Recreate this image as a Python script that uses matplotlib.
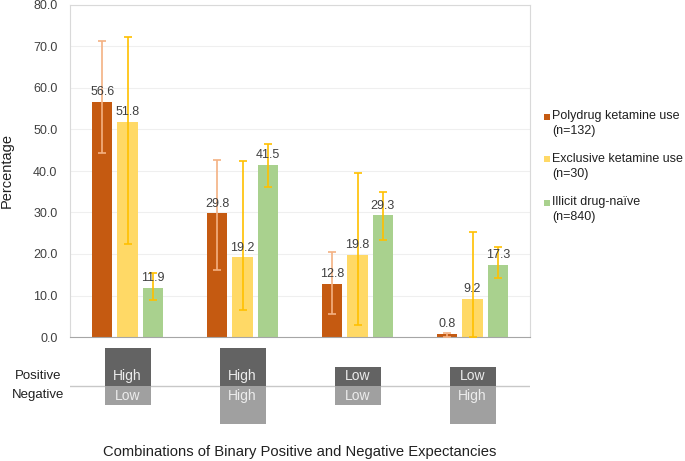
import matplotlib.pyplot as plt
import matplotlib.patches as patches
import numpy as np

plt.rcParams['font.family'] = ['Liberation Sans', 'DejaVu Sans']

# data
groups = ['HH-L', 'H-H', 'L-L', 'L-H']
positive = ['High', 'High', 'Low', 'Low']
negative = ['Low', 'High', 'Low', 'High']

series = ['Polydrug ketamine use\n(n=132)',
          'Exclusive ketamine use\n(n=30)',
          'Illicit drug-naïve\n(n=840)']
poly = [56.6, 29.8, 12.8, 0.8]
poly_lo = [44.3, 16.1, 5.5, 0.0]
poly_hi = [71.4, 42.6, 20.6, 0.9]
excl = [51.8, 19.2, 19.8, 9.2]
excl_lo = [22.4, 6.4, 2.9, 0.0]
excl_hi = [72.4, 42.5, 39.6, 25.3]
naive = [11.9, 41.5, 29.3, 17.3]
naive_lo = [8.8, 36.1, 23.3, 14.1]
naive_hi = [15.4, 46.6, 34.9, 21.7]

bar_colors = ['#C55A11', '#FFD966', '#A9D18E']
err_colors = ['#F4B183', '#FFC000', '#FFC000']

W, H = 685, 461
fig = plt.figure(figsize=(W / 100, H / 100), dpi=100)
ax = fig.add_axes([70 / W, (H - 337) / H, 460 / W, 332 / H])

x = np.arange(len(groups))
width = 0.175
offs = [-0.22, 0.0, 0.22]
vals = [poly, excl, naive]
los = [poly_lo, excl_lo, naive_lo]
his = [poly_hi, excl_hi, naive_hi]

for i in range(3):
    v = np.array(vals[i])
    yerr = [v - np.array(los[i]), np.array(his[i]) - v]
    ax.bar(x + offs[i], v, width, color=bar_colors[i], zorder=2)
    ax.errorbar(x + offs[i], v, yerr=yerr, fmt='none', ecolor=err_colors[i],
                elinewidth=1.2, capsize=3, capthick=1.2, zorder=3)
    for xi, vi in zip(x + offs[i], v):
        ax.text(xi, vi + 0.9, f'{vi:.1f}', ha='center', va='bottom',
                fontsize=9, color='#404040', zorder=4)

ax.set_xlim(-0.5, 3.5)
ax.set_ylim(0, 80)
ax.set_yticks(np.arange(0, 81, 10))
ax.set_yticklabels([f'{t:.1f}' for t in np.arange(0, 81, 10)], fontsize=9, color='#404040')
ax.set_xticks([])
ax.tick_params(axis='y', length=0, pad=9)
ax.yaxis.grid(True, color='#efefef', linewidth=0.8, zorder=0)
ax.set_axisbelow(True)
for s in ['left', 'top', 'right']:
    ax.spines[s].set_color('#d9d9d9')
ax.spines['bottom'].set_color('#a6a6a6')
ax.set_ylabel('Percentage', fontsize=10.5, labelpad=14, color='#202020')

# legend, drawn by hand in figure pixels
for i, lab in enumerate(series):
    yc = 116 + 43 * i
    fig.patches.append(patches.Rectangle((544 / W, 1 - (yc + 3.5) / H), 6 / W, 6 / H,
                                         transform=fig.transFigure,
                                         facecolor=bar_colors[i], edgecolor='none'))
    for j, line in enumerate(lab.split('\n')):
        fig.text(552 / W, 1 - (yc + 15 * j) / H, line, ha='left', va='center',
                 fontsize=9, color='#202020')

# expectancy panel: y data in pixel rows
ax2 = fig.add_axes([70 / W, (H - 430) / H, 460 / W, 90 / H])
ax2.set_xlim(-0.5, 3.5)
ax2.set_ylim(430, 340)
ax2.axis('off')
ax2.plot([-0.5, 3.5], [386, 386], color='#c8c8c8', linewidth=1, zorder=1)
bw = 0.4
for xi, p, n in zip(x, positive, negative):
    ptop = 348 if p == 'High' else 367
    ax2.add_patch(patches.Rectangle((xi - bw / 2, ptop), bw, 386 - ptop,
                                    facecolor='#636363', edgecolor='none', zorder=2))
    nbot = 424 if n == 'High' else 405
    ax2.add_patch(patches.Rectangle((xi - bw / 2, 386), bw, nbot - 386,
                                    facecolor='#a0a0a0', edgecolor='none', zorder=2))
    ax2.text(xi, 376, p, ha='center', va='center', fontsize=10, color='#ececec', zorder=3)
    ax2.text(xi, 396, n, ha='center', va='center', fontsize=10, color='#ececec', zorder=3)

fig.text(38 / W, 1 - 376 / H, 'Positive', ha='center', va='center', fontsize=9.5, color='#202020')
fig.text(38 / W, 1 - 395 / H, 'Negative', ha='center', va='center', fontsize=9.5, color='#202020')
fig.text(300 / W, 1 - 452 / H, 'Combinations of Binary Positive and Negative Expectancies',
         ha='center', va='center', fontsize=10.6, color='#202020')

fig.savefig('out.png', dpi=100)
